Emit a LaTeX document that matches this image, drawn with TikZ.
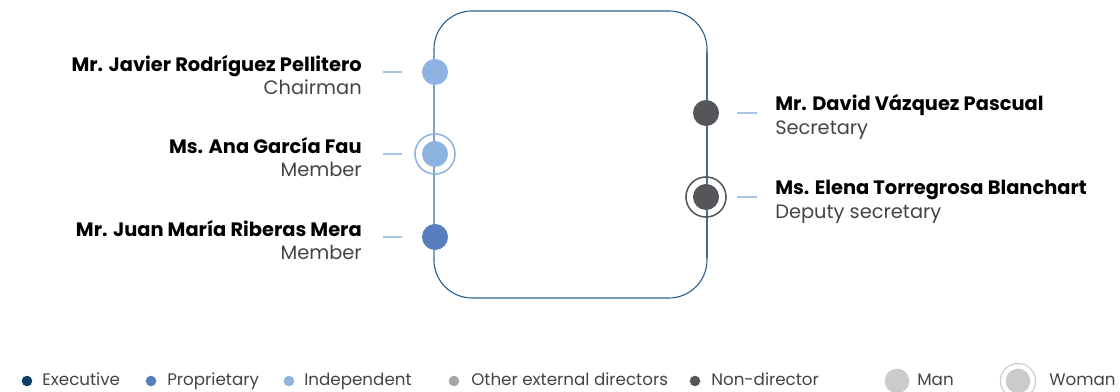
\documentclass[tikz,border=0pt]{standalone}
\usepackage{fontspec}
\setmainfont{Poppins}
\usepackage{tikz}
\usetikzlibrary{positioning, calc}

\definecolor{execblue}{HTML}{0D3F66}
\definecolor{propblue}{HTML}{5A7DC0}
\definecolor{indblue}{HTML}{8DB4E0}
\definecolor{othergray}{HTML}{A6A6A6}
\definecolor{nondir}{HTML}{54565A}
\definecolor{sexgray}{HTML}{CBCBCB}
\definecolor{framedark}{HTML}{2F5F8C}
\definecolor{ticklight}{HTML}{A9C6E6}
\definecolor{rolegray}{HTML}{444444}

\begin{document}
\begin{tikzpicture}[
        x=0.025cm, y=-0.025cm,
        frame/.style={draw=framedark, line width=0.8pt, rounded corners=0.95cm},
        dot/.style={circle, inner sep=0pt, minimum size=18.5pt},
        ring/.style={circle, draw, line width=1.1pt, inner sep=0pt, minimum size=28.5pt},
        tick/.style={draw=ticklight, line width=0.8pt},
        lbl/.style={align=left, font=\fontsize{13.8}{17}\selectfont, inner sep=0pt},
        lblr/.style={lbl, align=right, anchor=east},
        lbll/.style={lbl, anchor=west},
        legdot/.style={circle, inner sep=0pt, minimum size=7.5pt},
        legtxt/.style={anchor=base west, inner sep=0pt, text=rolegray,
                       font=\fontsize{11.9}{13}\selectfont}
    ]
    \useasboundingbox (0,0) rectangle (1120,392);

    % committee frame
    \draw[frame] (434,11) rectangle (707,298);
    \draw[draw=indblue!90!black, line width=0.8pt] (434,52) -- (434,258);
    \draw[draw=framedark!60!gray, line width=0.8pt] (707,52) -- (707,258);

    % members, left side
    \node[dot, fill=indblue]  (jrp) at (435,72)  {};
    \node[ring, draw=indblue] (agfr) at (435,154) {};
    \node[dot, fill=indblue]  (agf) at (435,154) {};
    \node[dot, fill=propblue] (jmr) at (435,237) {};

    \node[lblr] (jrpl) at (362,75)  {\textbf{Mr. Javier Rodríguez Pellitero}\\{\color{rolegray}Chairman}};
    \node[lblr] (agfl) at (362,157) {\textbf{Ms. Ana García Fau}\\{\color{rolegray}Member}};
    \node[lblr] (jmrl) at (362,240) {\textbf{Mr. Juan María Riberas Mera}\\{\color{rolegray}Member}};

    % members, right side
    \node[dot, fill=nondir]  (dvp) at (706,113) {};
    \node[ring, draw=nondir] (etbr) at (706,197) {};
    \node[dot, fill=nondir]  (etb) at (706,197) {};

    \node[lbll] (dvpl) at (775,117) {\textbf{Mr. David Vázquez Pascual}\\{\color{rolegray}Secretary}};
    \node[lbll] (etbl) at (775,202) {\textbf{Ms. Elena Torregrosa Blanchart}\\{\color{rolegray}Deputy secretary}};

    % ticks
    \draw[tick, shorten <=15pt, shorten >=14.2pt] (jrpl.east |- jrp) -- (jrp);
    \draw[tick, shorten <=15pt, shorten >=14.2pt] (agfl.east |- agf) -- (agf);
    \draw[tick, shorten <=15pt, shorten >=14.2pt] (jmrl.east |- jmr) -- (jmr);
    \draw[tick, shorten <=12.8pt, shorten >=12.8pt] (dvp) -- (dvpl.west |- dvp);
    \draw[tick, shorten <=12.8pt, shorten >=12.8pt] (etb) -- (etbl.west |- etb);

    % legend
    \node[legdot, fill=execblue]   (lg1) at (27,381)  {};
    \node[legtxt] (lt1) at (42,386)  {Executive};
    \node[legdot, fill=propblue]   (lg2) at (151,381) {};
    \node[legtxt] (lt2) at (167,386) {Proprietary};
    \node[legdot, fill=indblue]    (lg3) at (289,381) {};
    \node[legtxt] (lt3) at (304,386) {Independent};
    \node[legdot, fill=othergray]  (lg4) at (454,381) {};
    \node[legtxt] (lt4) at (471,386) {Other external directors};
    \node[legdot, fill=nondir]     (lg5) at (695,381) {};
    \node[legtxt] (lt5) at (711,386) {Non-director};
    \node[circle, fill=sexgray, inner sep=0pt, minimum size=17.5pt] (lg6) at (897,381) {};
    \node[legtxt] (lt6) at (917,386) {Man};
    \node[circle, draw=sexgray, line width=0.8pt, inner sep=0pt, minimum size=25pt] (lg7r) at (1018,381) {};
    \node[circle, fill=sexgray, inner sep=0pt, minimum size=17.5pt] (lg7) at (1018,381) {};
    \node[legtxt] (lt7) at (1049,386) {Woman};
\end{tikzpicture}
\end{document}
